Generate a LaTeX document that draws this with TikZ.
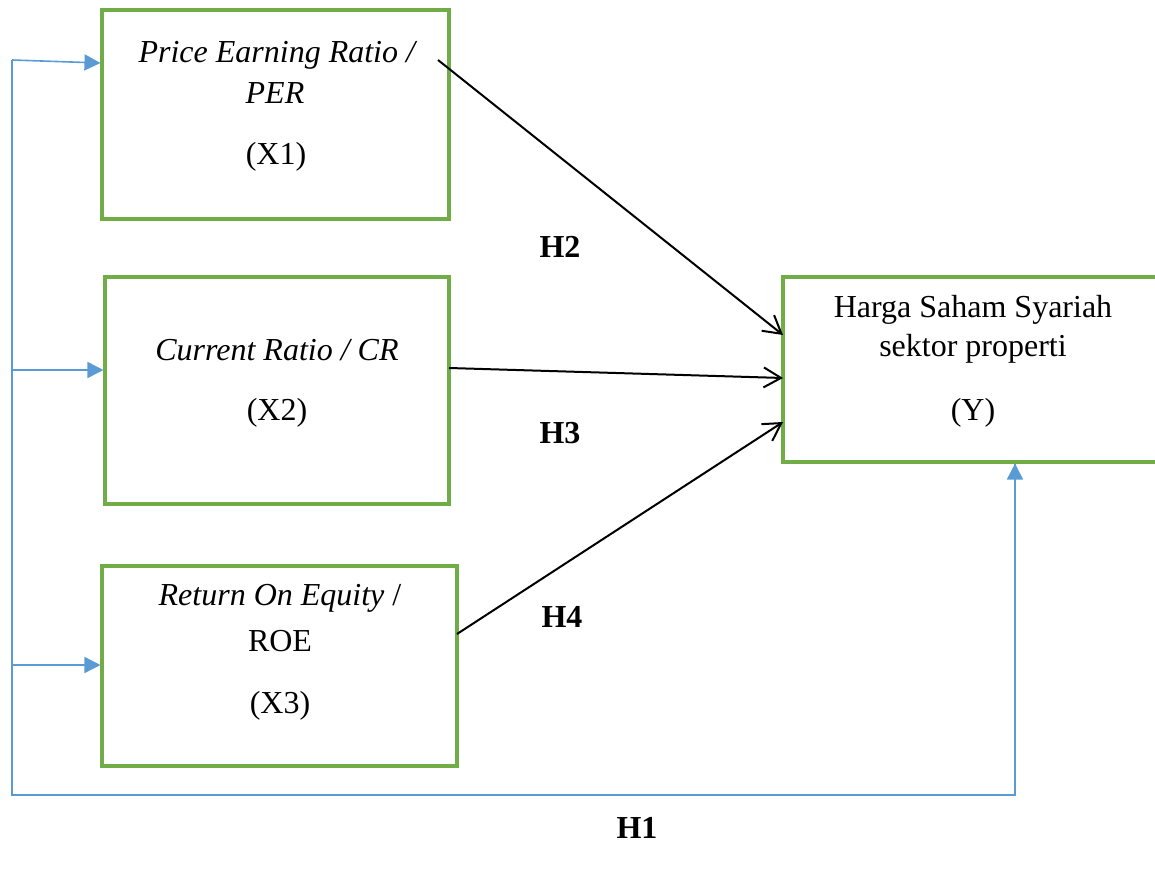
\documentclass[tikz,border=0pt]{standalone}
\usepackage{fontspec}
\setmainfont{Liberation Serif}
\usetikzlibrary{arrows.meta}

\definecolor{boxgreen}{RGB}{112,173,71}
\definecolor{lineblue}{RGB}{91,155,213}

\tikzset{every picture/.style={line width=0.75pt}}
\tikzset{
  varbox/.style={draw=boxgreen, line width=2.3pt, inner sep=0pt},
  txt/.style={font=\fontsize{24}{29}\selectfont, inner sep=0pt},
  hyp/.style={font=\fontsize{24}{29}\selectfont\bfseries, inner sep=0pt},
  black arrow/.style={line width=1.5pt, -{Straight Barb[length=13pt,width=15pt]}},
  blue line/.style={draw=lineblue, line width=1.2pt},
  blue arrow/.style={blue line, -{Triangle[length=12pt,width=12pt]}, color=lineblue}
}

\begin{document}
\begin{tikzpicture}[x=0.75pt,y=0.75pt,yscale=-1,xscale=1]

\useasboundingbox (0,0) rectangle (1155,873);

% boxes
\node [varbox, minimum width={347*0.75pt}, minimum height={209*0.75pt}] (per) at (275.5,114.5) {};
\node [varbox, minimum width={344*0.75pt}, minimum height={227*0.75pt}] (cr) at (277,390.5) {};
\node [varbox, minimum width={355*0.75pt}, minimum height={200*0.75pt}] (roe) at (279.5,666) {};
\node [varbox, minimum width={374*0.75pt}, minimum height={185*0.75pt}] (harga) at (970,369.5) {};

% texts
\node [txt] (perA) at (278,55) {\textit{Price Earning Ratio /}};
\node [txt] (perB) at (275,93) {\textit{PER}};
\node [txt] (perC) at (276,157) {(X1)};
\node [txt] (crA) at (277,350) {\textit{Current Ratio / CR}};
\node [txt] (crB) at (277,413) {(X2)};
\node [txt] (roeA) at (280,598) {\textit{Return On Equity} /};
\node [txt] (roeB) at (280,641) {ROE};
\node [txt] (roeC) at (280,706) {(X3)};
\node [txt] (hargaA) at (973,310) {Harga Saham Syariah};
\node [txt] (hargaB) at (973,349) {sektor properti};
\node [txt] (hargaC) at (973,413) {(Y)};

% hypothesis labels
\node [hyp] (h2) at (560,247) {H2};
\node [hyp] (h3) at (560,433) {H3};
\node [hyp] (h4) at (562,617) {H4};
\node [hyp] (h1) at (637,828) {H1};

% black paths
\coordinate (perOut) at (438,60);
\coordinate (crOut) at (449,368);
\coordinate (roeOut) at (457,634);
\coordinate (hargaIn1) at (783,335);
\coordinate (hargaIn2) at (783,378);
\coordinate (hargaIn3) at (783,422);
\draw [black arrow] (perOut) -- (hargaIn1);
\draw [black arrow] (crOut) -- (hargaIn2);
\draw [black arrow] (roeOut) -- (hargaIn3);

% blue frame
\coordinate (topL) at (12,60);
\coordinate (midL) at (12,370);
\coordinate (lowL) at (12,665);
\coordinate (botL) at (12,795);
\coordinate (botR) at (1015,795);
\coordinate (perIn) at (per.west |- 0,63);
\draw [blue line] (topL) -- (botL) -- (botR) -- (harga.south -| botR);
\draw [blue arrow] (botR) -- (harga.south -| botR);
\draw [blue arrow] (topL) -- (perIn);
\draw [blue arrow] (midL) -- (midL -| cr.west);
\draw [blue arrow] (lowL) -- (lowL -| roe.west);

\end{tikzpicture}
\end{document}
